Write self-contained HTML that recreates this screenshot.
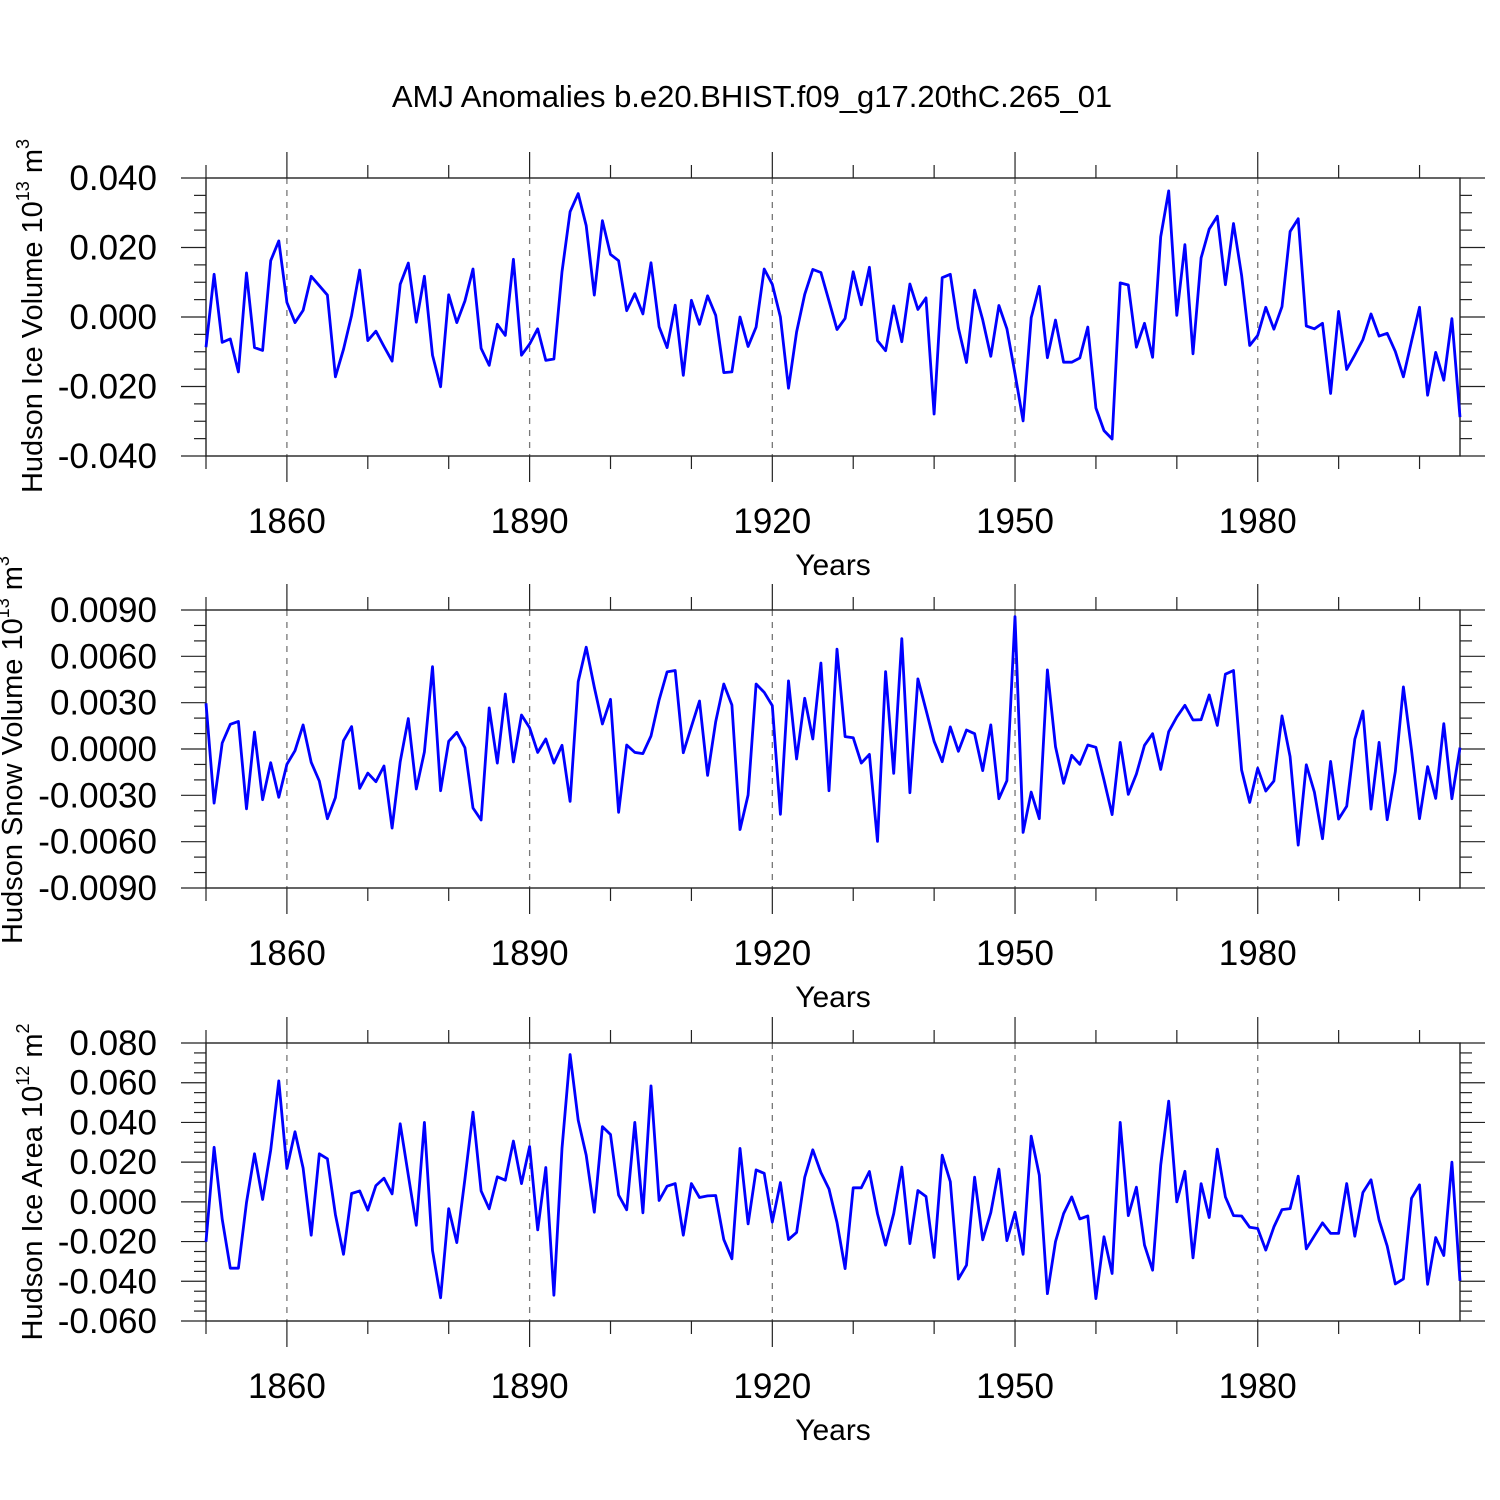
<!DOCTYPE html>
<html><head><meta charset="utf-8">
<style>
html,body{margin:0;padding:0;background:#fff;}
svg{display:block;font-family:"Liberation Sans",sans-serif;}
</style></head>
<body>
<svg id="chart" width="1500" height="1500" viewBox="0 0 1500 1500" xmlns="http://www.w3.org/2000/svg">
<rect width="1500" height="1500" fill="#fff"/>
<text x="752" y="107" font-size="31" text-anchor="middle">AMJ Anomalies b.e20.BHIST.f09_g17.20thC.265_01</text>
</svg>
<script>
const years = [];
for (let y = 1850; y <= 2005; y++) years.push(y);
const iceVolume = [-8.7,12.3,-7.3,-6.3,-15.8,12.7,-8.8,-9.6,16.2,21.9,4.2,-1.6,1.9,11.7,9.0,6.3,-17.2,-9.3,0.5,13.5,-6.8,-4.1,-8.5,-12.7,9.4,15.5,-1.5,11.7,-11.0,-20.1,6.4,-1.6,4.6,13.8,-9.0,-13.9,-2.1,-5.3,16.6,-11.0,-7.8,-3.4,-12.5,-12.1,13.0,30.3,35.5,26.3,6.3,27.7,18.0,16.2,1.8,6.7,0.9,15.6,-2.8,-8.8,3.4,-16.8,4.8,-2.1,6.1,0.5,-16.0,-15.8,0,-8.5,-2.9,13.8,9.4,0,-20.5,-4.3,6.5,13.7,12.8,4.6,-3.6,-0.4,13.0,3.5,14.3,-6.8,-9.7,3.2,-7.1,9.5,2.2,5.5,-27.9,11.3,12.3,-3.2,-13.1,7.7,-0.8,-11.3,3.3,-3.4,-16.3,-29.9,-0.2,8.8,-11.7,-0.9,-13.0,-13.0,-11.8,-2.9,-26.2,-32.7,-35.1,9.8,9.2,-8.7,-1.8,-11.6,23.1,36.3,0.5,20.8,-10.6,17.0,25.3,29.0,9.3,26.9,12.0,-8.2,-5.3,2.8,-3.5,3.0,24.6,28.3,-2.6,-3.4,-1.8,-22.0,1.6,-15.1,-10.9,-6.5,0.9,-5.5,-4.7,-9.9,-17.2,-7.0,2.8,-22.5,-10.2,-18.2,-0.5,-28.8];
const snowVolume = [2.96,-3.50,0.39,1.60,1.79,-3.87,1.10,-3.28,-0.89,-3.13,-0.99,-0.11,1.56,-0.86,-2.07,-4.51,-3.15,0.54,1.45,-2.55,-1.56,-2.12,-1.10,-5.12,-0.82,1.97,-2.59,-0.19,5.33,-2.70,0.50,1.08,0.09,-3.82,-4.60,2.66,-0.91,3.56,-0.84,2.20,1.38,-0.22,0.65,-0.91,0.24,-3.39,4.36,6.59,4.00,1.62,3.22,-4.10,0.26,-0.22,-0.30,0.84,3.17,4.99,5.08,-0.24,1.45,3.11,-1.71,1.77,4.21,2.85,-5.21,-2.98,4.21,3.67,2.81,-4.23,4.41,-0.65,3.28,0.65,5.57,-2.70,6.46,0.80,0.73,-0.91,-0.35,-5.98,5.01,-1.58,7.15,-2.83,4.54,2.53,0.50,-0.82,1.43,-0.15,1.23,0.99,-1.40,1.56,-3.22,-2.05,8.57,-5.40,-2.79,-4.51,5.12,0.15,-2.22,-0.41,-0.99,0.26,0.11,-2.01,-4.25,0.43,-2.94,-1.62,0.24,0.99,-1.32,1.12,2.07,2.83,1.88,1.90,3.50,1.53,4.84,5.08,-1.36,-3.46,-1.25,-2.72,-2.07,2.14,-0.50,-6.22,-1.02,-2.79,-5.81,-0.80,-4.54,-3.71,0.63,2.46,-3.89,0.43,-4.58,-1.47,4.02,-0.06,-4.51,-1.14,-3.20,1.64,-3.22,0.09];
const iceArea = [-20.1,27.5,-8.7,-33.4,-33.4,-0.3,24.2,1.2,26.0,60.9,16.8,35.3,17.0,-16.8,24.2,21.7,-6.4,-26.4,4.2,5.5,-4.2,8.2,11.9,4.0,39.3,13.4,-11.8,40.0,-24.5,-48.3,-3.4,-20.5,11.4,45.2,5.5,-3.5,12.6,10.9,30.6,9.2,27.9,-14.1,17.3,-47.0,26.9,74.2,41.1,23.5,-5.2,37.9,33.9,3.4,-4.0,40.0,-5.5,58.4,0.7,7.9,9.2,-16.8,9.2,2.2,3.0,3.2,-19.0,-28.7,26.9,-11.1,16.1,14.4,-10.2,9.7,-19.0,-15.4,12.3,26.2,14.8,6.5,-10.4,-33.6,7.1,7.1,15.3,-6.0,-21.8,-5.9,17.5,-21.0,5.7,2.7,-28.0,23.5,10.2,-38.9,-31.9,12.4,-19.1,-5.4,16.5,-19.5,-5.2,-26.4,33.1,13.4,-46.2,-20.0,-5.9,2.5,-8.6,-7.1,-48.7,-17.6,-36.1,40.0,-6.9,7.4,-21.8,-34.4,18.5,50.7,0,15.4,-28.2,9.2,-7.9,26.5,2.5,-6.9,-7.1,-12.8,-13.4,-24.3,-12.6,-3.9,-3.4,12.9,-23.7,-17.1,-10.6,-15.9,-15.9,9.2,-17.3,4.7,11.1,-9.2,-22.3,-41.3,-38.8,1.8,8.6,-41.5,-18.0,-27.0,20.0,-39.8];
const xTickLabels = ["1860","1890","1920","1950","1980"];
const ticks1 = ["0.040","0.020","0.000","-0.020","-0.040"];
const ticks2 = ["0.0090","0.0060","0.0030","0.0000","-0.0030","-0.0060","-0.0090"];
const ticks3 = ["0.080","0.060","0.040","0.020","0.000","-0.020","-0.040","-0.060"];

const NS = "http://www.w3.org/2000/svg";
const svg = document.getElementById('chart');
const X0 = 206, X1 = 1460, YR0 = 1850, YR1 = 2005;
function xs(y){ return X0 + (y - YR0) * (X1 - X0) / (YR1 - YR0); }
function mk(tag, attrs, parent){ const e = document.createElementNS(NS, tag); for (const k in attrs) e.setAttribute(k, attrs[k]); (parent||svg).appendChild(e); return e; }

function panel(cfg){
  const g = mk('g', {});
  
  
  const top = cfg.top, bot = cfg.top + 278;
  const vmax = parseFloat(cfg.ticks[0]), vmin = parseFloat(cfg.ticks[cfg.ticks.length-1]);
  const ys = v => top + (vmax - v) / (vmax - vmin) * (bot - top);
  xTickLabels.forEach(t => {
    const x = xs(+t);
    const l = mk('line', {x1:x, x2:x, y1:top, y2:bot, stroke:'#777', 'stroke-width':1.3, 'stroke-dasharray':'6,6'}, g);
    
    
  });
  for (let y = 1850; y <= 2005; y += 10) {
    const x = xs(y), major = (y - 1860) % 30 === 0;
    const len = major ? 26 : 13;
    mk('line', {x1:x, x2:x, y1:top-len, y2:top, stroke:'#222', 'stroke-width':1.2}, g);
    mk('line', {x1:x, x2:x, y1:bot, y2:bot+len, stroke:'#222', 'stroke-width':1.2}, g);
  }
  const step = parseFloat(cfg.ticks[0]) - parseFloat(cfg.ticks[1]);
  const minor = step / cfg.nminor;
  for (let v = vmin; v <= vmax + minor/2; v += minor) {
    const y = ys(v);
    const k = Math.round((v - vmin) / minor);
    const len = (k % cfg.nminor === 0) ? 25 : 12;
    mk('line', {x1:X0-len, x2:X0, y1:y, y2:y, stroke:'#222', 'stroke-width':1.2}, g);
    mk('line', {x1:X1, x2:X1+len, y1:y, y2:y, stroke:'#222', 'stroke-width':1.2}, g);
  }
  cfg.ticks.forEach(t => {
    const tx = mk('text', {x:157, y:ys(parseFloat(t)) + 12, 'font-size':35, 'text-anchor':'end'}, g);
    
    
    tx.textContent = t;
  });
  xTickLabels.forEach(t => {
    const tx = mk('text', {x:xs(+t), y:bot + 77, 'font-size':35, 'text-anchor':'middle'}, g);
    
    
    tx.textContent = t;
  });
  const xt = mk('text', {x:833, y:bot + 119, 'font-size':30, 'text-anchor':'middle'}, g);
  
  
  xt.textContent = 'Years';
  const yt = mk('text', {transform:`translate(${cfg.tx},${cfg.ty}) rotate(-90)`, 'font-size':29, 'text-anchor':'middle'}, g);
  
  
  yt.innerHTML = cfg.title + ' 10<tspan font-size="18" dy="-13">' + cfg.exp + '</tspan><tspan dy="13"> m</tspan><tspan font-size="18" dy="-13">' + cfg.unit + '</tspan>';
  const fr = mk('rect', {x:X0, y:top, width:X1-X0, height:bot-top, fill:'none', stroke:'#222', 'stroke-width':1.4}, g);
  
  
  const pts = cfg.data.map((v, i) => xs(years[i]).toFixed(1) + ',' + ys(v * cfg.scale).toFixed(1)).join(' ');
  const pl = mk('polyline', {points:pts, fill:'none', stroke:'#0000ff', 'stroke-width':2.8, 'stroke-linejoin':'round'}, g);
  
  
}
panel({name:'ice-volume', top:178, ticks:ticks1, nminor:4, data:iceVolume, scale:0.001, title:'Hudson Ice Volume', exp:'13', unit:'3', tx:42, ty:316});
panel({name:'snow-volume', top:610, ticks:ticks2, nminor:3, data:snowVolume, scale:0.001, title:'Hudson Snow Volume', exp:'13', unit:'3', tx:22, ty:750});
panel({name:'ice-area', top:1043, ticks:ticks3, nminor:4, data:iceArea, scale:0.001, title:'Hudson Ice Area', exp:'12', unit:'2', tx:42, ty:1182});
</script>
</body></html>
